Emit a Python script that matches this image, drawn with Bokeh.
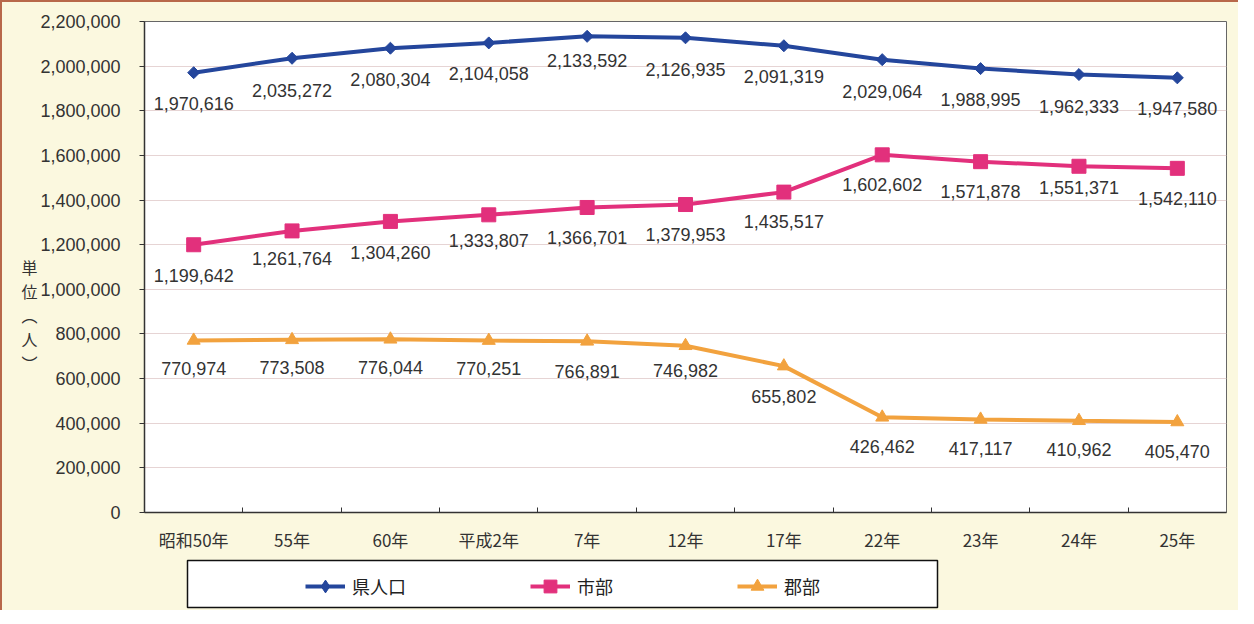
from bokeh.plotting import figure
from bokeh.models import (Range1d, FixedTicker, NumeralTickFormatter, Legend, LegendItem,
                          ColumnDataSource, BoxAnnotation)
from bokeh.layouts import column
from bokeh.embed import file_html
from bokeh.resources import INLINE
from bokeh.core.properties import value
import math

# ---- data ----
categories = ["昭和50年", "55年", "60年", "平成2年", "7年", "12年", "17年", "22年", "23年", "24年", "25年"]
pref_pop = [1970616, 2035272, 2080304, 2104058, 2133592, 2126935, 2091319, 2029064, 1988995, 1962333, 1947580]
city_pop = [1199642, 1261764, 1304260, 1333807, 1366701, 1379953, 1435517, 1602602, 1571878, 1551371, 1542110]
county_pop = [770974, 773508, 776044, 770251, 766891, 746982, 655802, 426462, 417117, 410962, 405470]
series_names = ["県人口", "市部", "郡部"]
y_ticks = [0, 200000, 400000, 600000, 800000, 1000000, 1200000, 1400000, 1600000, 1800000, 2000000, 2200000]
y_title = "単位（人）"

# ---- styles ----
colors = ["#24469c", "#e2307c", "#f2a23e"]
label_dy = [
    [31, 32, 31, 31, 24, 32, 31, 32, 31, 32, 31],
    [31, 28, 31, 26, 30, 30, 29, 30, 30, 21, 30],
    [28, 28, 28, 28, 30, 25, 30, 29, 29, 29, 29],
]
CREAM = "#fbf8df"
TXT = "#333333"
BL, BR = 142, 12

p = figure(width=1236, height=552, output_backend="svg", toolbar_location=None,
           x_range=Range1d(-0.5, len(categories) - 0.5), y_range=Range1d(0, 2200000),
           min_border_left=BL, min_border_right=BR, min_border_top=19, min_border_bottom=39)
p.border_fill_color = CREAM
p.background_fill_color = "white"
p.outline_line_color = "#666666"
p.outline_line_width = 1

# axes
xa = p.xaxis[0]
xa.ticker = FixedTicker(ticks=list(range(len(categories))),
                        minor_ticks=[i + 0.5 for i in range(len(categories) - 1)])
xa.major_label_overrides = {i: c for i, c in enumerate(categories)}
xa.major_tick_in = 0
xa.major_tick_out = 0
xa.minor_tick_in = 5
xa.minor_tick_out = 0
xa.minor_tick_line_color = "#333333"
xa.axis_line_color = "#333333"
xa.axis_line_width = 1.5
xa.major_label_text_font = "Noto Sans CJK JP"
xa.major_label_text_font_size = "17px"
xa.major_label_text_color = TXT
xa.major_label_standoff = 14

ya = p.yaxis[0]
ya.ticker = FixedTicker(ticks=y_ticks)
ya.formatter = NumeralTickFormatter(format="0,0")
ya.major_tick_in = 0
ya.major_tick_out = 5
ya.minor_tick_in = 0
ya.minor_tick_out = 0
ya.major_tick_line_color = "#333333"
ya.axis_line_color = "#333333"
ya.axis_line_width = 1.5
ya.major_label_text_font = "Liberation Sans"
ya.major_label_text_font_size = "18px"
ya.major_label_text_color = TXT
ya.major_label_standoff = 19
# vertical (stacked) axis title; leading blank lines push it below the centre like the reference
vert = y_title.replace("（", "︵").replace("）", "︶")
ya.axis_label = "\n".join([" "] * 4 + list(vert))
ya.axis_label_orientation = "horizontal"
ya.axis_label_text_font = "Noto Sans CJK JP"
ya.axis_label_text_font_size = "16px"
ya.axis_label_text_font_style = "normal"
ya.axis_label_text_color = TXT
ya.axis_label_text_line_height = 1.0
ya.axis_label_standoff = 0

p.xgrid.visible = False
p.ygrid.grid_line_color = "#e6d4d4"
p.ygrid.grid_line_width = 1

xs = list(range(len(categories)))
all_series = [pref_pop, city_pop, county_pop]
markers = [("square", 8.5, math.pi / 4), ("square", 14, 0), ("triangle", 13, 0)]
legend_markers = ["diamond", "square", "triangle"]
sources = []
for k, vals in enumerate(all_series):
    src = ColumnDataSource(dict(x=xs, y=vals, lab=[f"{v:,}" for v in vals], dy=label_dy[k]))
    sources.append(src)
    p.line("x", "y", source=src, line_color=colors[k], line_width=4)
    mk, sz, ang = markers[k]
    p.scatter("x", "y", source=src, marker=mk, size=sz, angle=ang,
              fill_color=colors[k], line_color=colors[k])
    p.text("x", "y", text="lab", source=src, y_offset="dy", text_align="center",
           text_baseline="middle", text_font=value("Liberation Sans"), text_font_size="18px",
           text_color=TXT)

# legend strip below the chart (same side borders as the chart)
p2 = figure(width=1236, height=56, output_backend="svg", toolbar_location=None,
            x_range=Range1d(0, 1), y_range=Range1d(0, 1),
            x_axis_location=None, y_axis_location=None,
            min_border_left=BL, min_border_right=BR, min_border_top=0, min_border_bottom=0)
p2.border_fill_color = CREAM
p2.background_fill_color = CREAM
p2.outline_line_color = None
p2.grid.visible = False
box = BoxAnnotation(left=43, right=793, top=50, bottom=3,
                    left_units="screen", right_units="screen", top_units="screen", bottom_units="screen",
                    fill_color="white", fill_alpha=1, line_color="#111111", line_alpha=1, line_width=1.5)
p2.add_layout(box)
items = []
for k in range(3):
    # the series drawn again here fall outside this strip's ranges; only their legend swatch shows
    lr = p2.line("x", "y", source=sources[k], line_color=colors[k], line_width=4)
    sr = p2.scatter("x", "y", source=sources[k], marker=legend_markers[k], size=12,
                    fill_color=colors[k], line_color=colors[k])
    items.append(LegendItem(label=series_names[k], renderers=[lr, sr]))
legend = Legend(items=items, orientation="horizontal", location=(161, 8),
                padding=0, margin=0, spacing=124, glyph_width=40, glyph_height=32,
                label_standoff=7, label_text_font="Noto Sans CJK JP", label_text_font_size="18px",
                label_text_color="#222222", background_fill_alpha=0, border_line_alpha=0)
p2.add_layout(legend)

layout = column(p, p2, spacing=0)
layout.styles = {"border-left": "2px solid #b8684a", "border-top": "2px solid #b8684a",
                 "background-color": CREAM}

open("out.html", "w").write(file_html(layout, INLINE))
